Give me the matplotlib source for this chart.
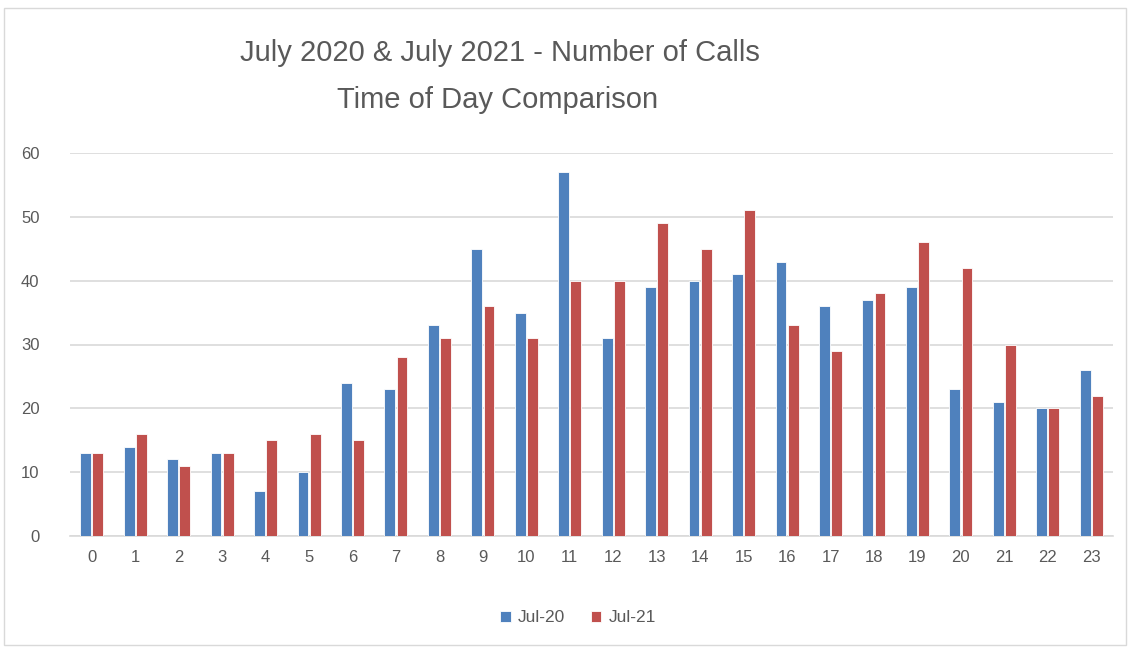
import numpy as np
import matplotlib.pyplot as plt
from matplotlib.patches import Rectangle

hours = [str(h) for h in range(24)]
jul20 = [13, 14, 12, 13, 7, 10, 24, 23, 33, 45, 35, 57, 31, 39, 40, 41, 43, 36, 37, 39, 23, 21, 20, 26]
jul21 = [13, 16, 11, 13, 15, 16, 15, 28, 31, 36, 31, 40, 40, 49, 45, 51, 33, 29, 38, 46, 42, 30, 20, 22]

plt.rcParams['font.family'] = ['Liberation Sans', 'DejaVu Sans']

fig = plt.figure(figsize=(11.28, 6.51), dpi=100)
ax = fig.add_axes([70 / 1128, 1 - 536 / 651, (1113 - 70) / 1128, (536 - 153) / 651])

x = np.arange(len(hours))
w = 0.25
ax.bar(x - 0.14, jul20, w, color='#4F81BD', edgecolor='white', linewidth=0.6, label='Jul-20', zorder=3)
ax.bar(x + 0.14, jul21, w, color='#C0504D', edgecolor='white', linewidth=0.6, label='Jul-21', zorder=3)

ax.set_xlim(-0.5, 23.5)
ax.set_ylim(0, 60)
ax.set_yticks(range(0, 61, 10))
ax.set_xticks(x)
ax.set_xticklabels(hours)
ax.grid(axis='y', color='#D9D9D9', linewidth=1.2, zorder=0)
for s in ['top', 'right', 'left']:
    ax.spines[s].set_visible(False)
ax.spines['bottom'].set_color('#D9D9D9')
ax.spines['bottom'].set_linewidth(1.2)
ax.tick_params(length=0, labelsize=12, colors='#595959', pad=10)
ax.tick_params(axis='y', pad=22)

fig.text(500 / 1128, 1 - 53 / 651, 'July 2020 & July 2021 - Number of Calls',
         ha='center', va='center', fontsize=21, color='#595959')
fig.text(498 / 1128, 1 - 100 / 651, 'Time of Day Comparison',
         ha='center', va='center', fontsize=21, color='#595959')

ax.legend(loc='center', bbox_to_anchor=(578 / 1128, 1 - 618 / 651),
          bbox_transform=fig.transFigure, ncol=2, frameon=False,
          fontsize=12.5, labelcolor='#595959', handlelength=0.6, handleheight=0.6,
          columnspacing=1.5, handletextpad=0.4)

fig.patches.append(Rectangle((4 / 1128, 6 / 651), 1122 / 1128, 637 / 651,
                             transform=fig.transFigure, fill=False,
                             edgecolor='#D9D9D9', linewidth=1))

fig.savefig('out.png', dpi=100)
